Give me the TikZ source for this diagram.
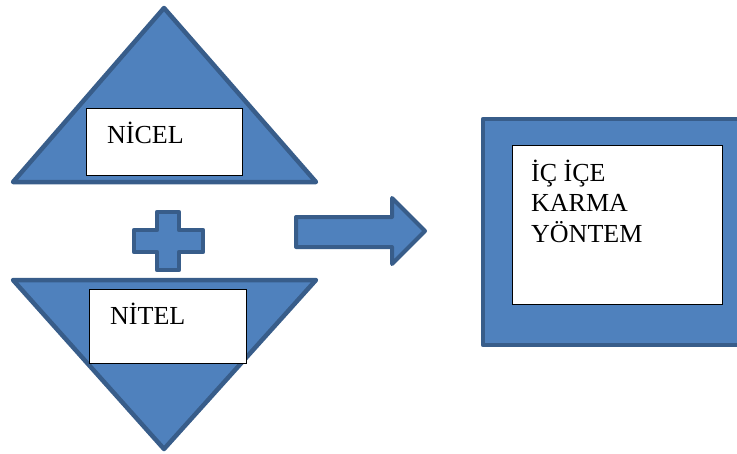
\documentclass[tikz,border=0pt]{standalone}
\usepackage{fontspec}
\setmainfont{Liberation Serif}
\usetikzlibrary{positioning}
\definecolor{shapefill}{HTML}{4F81BD}
\definecolor{shapeline}{HTML}{385D8A}

\begin{document}
\begin{tikzpicture}[x=1pt,y=-1pt,
  blockshape/.style={fill=shapefill,draw=shapeline,line width=4.5pt,line join=round},
  whitebox/.style={draw=black,fill=white,line width=0.9pt,inner sep=0pt},
  boxtext/.style={font=\fontsize{26}{30.5}\selectfont,anchor=base west,inner sep=0pt,align=left}]
\useasboundingbox (0,0) rectangle (737,453);
% left side: two triangles and the plus sign
\draw[blockshape] (164,8) -- (316,182) -- (13,182) -- cycle;
\draw[blockshape] (13,280) -- (316,280) -- (164,449) -- cycle;
\draw[blockshape] (157,212) -- (179,212) -- (179,230) -- (203,230) -- (203,252)
  -- (179,252) -- (179,270) -- (157,270) -- (157,252) -- (134,252) -- (134,230)
  -- (157,230) -- cycle;
\node[whitebox,minimum width=156pt,minimum height=67pt] (nicel) at (164,141.5) {};
\node[whitebox,minimum width=157pt,minimum height=74pt] (nitel) at (167.5,326) {};
\node[boxtext] (nicelt) at (107,143) {NİCEL};
\node[boxtext] (nitelt) at (110,324) {NİTEL};
% block arrow
\draw[blockshape,line width=4pt] (296,217) -- (392,217) -- (392,198) -- (425,231)
  -- (392,264) -- (392,247) -- (296,247) -- cycle;
% right side
\draw[blockshape] (483,119) rectangle (741,345);
\node[whitebox,minimum width=210pt,minimum height=159pt] (karma) at (617,224.5) {};
\node[boxtext] (karmat) at (531,242) {İÇ İÇE\\KARMA\\YÖNTEM};
\end{tikzpicture}
\end{document}
